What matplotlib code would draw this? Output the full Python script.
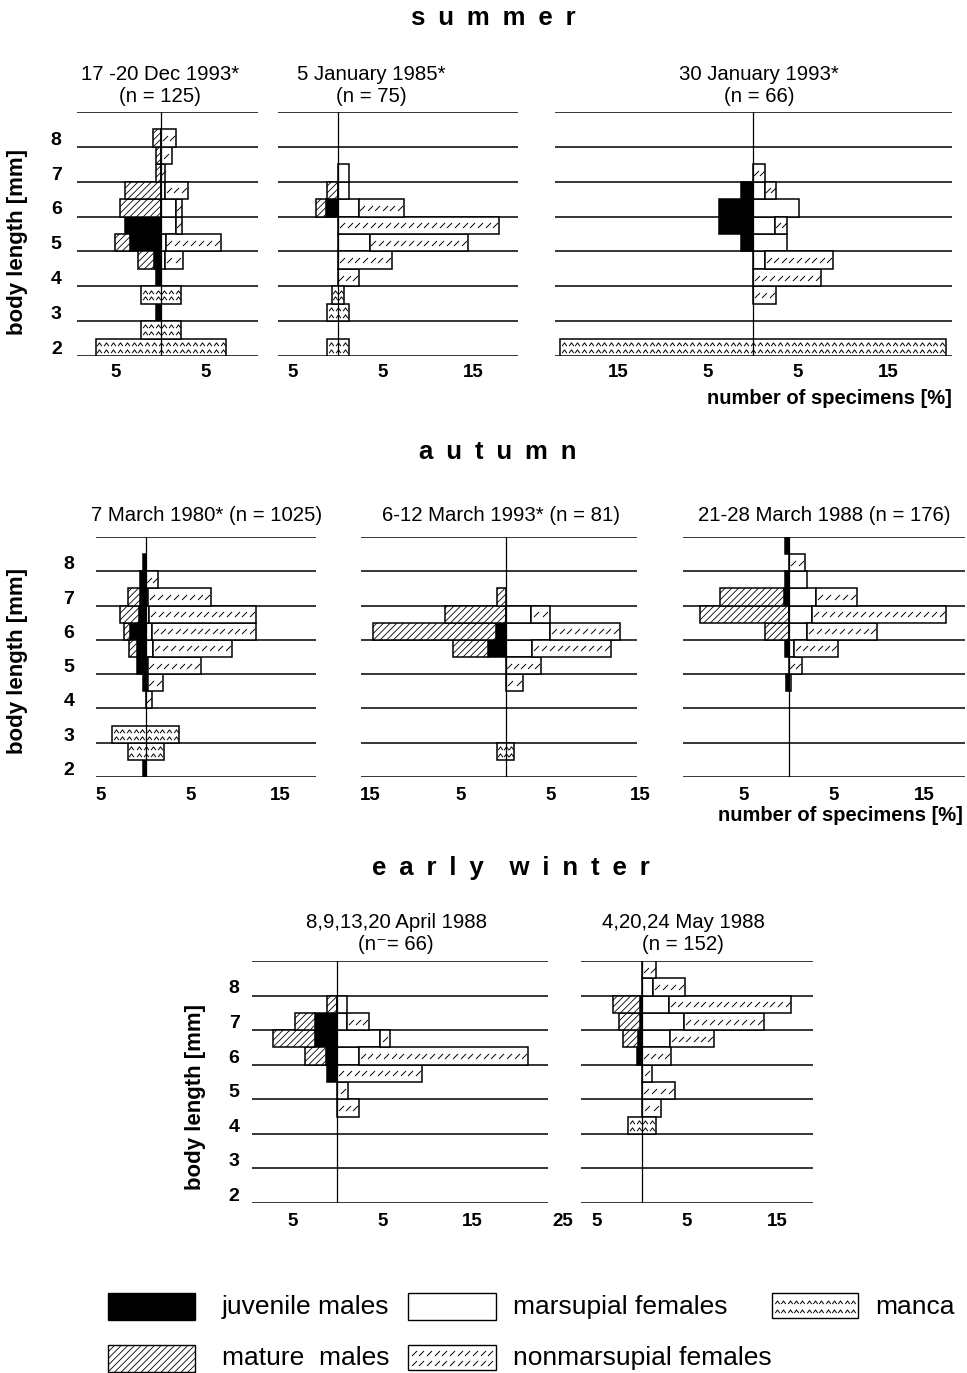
import numpy as np
import matplotlib.pyplot as plt
from matplotlib.path import Path
from matplotlib.patches import Rectangle

plt.rcParams['font.family'] = ['Liberation Sans', 'DejaVu Sans']
plt.rcParams['hatch.linewidth'] = 0.6

# body length classes (mm), half-mm steps
LENGTHS = [2.0, 2.5, 3.0, 3.5, 4.0, 4.5, 5.0, 5.5, 6.0, 6.5, 7.0, 7.5, 8.0, 8.5]

# number of specimens [%] per class; males go left, females right, manca centred
dec93_juv = [0, 0, 0.6, 0, 0.6, 0.8, 3.4, 4.0, 0, 0, 0, 0, 0, 0]
dec93_mat = [0, 0, 0, 0, 0, 1.8, 1.7, 0, 4.6, 4.0, 0.6, 0.6, 0.9, 0]
dec93_mar = [0, 0, 0, 0, 0, 0.4, 0.5, 1.7, 1.7, 0.4, 0, 0, 0, 0]
dec93_non = [0, 0, 0, 0, 0, 2.0, 6.2, 0.6, 0.6, 2.6, 0.4, 1.2, 1.7, 0]
dec93_man = [14.5, 4.4, 0, 4.4, 0, 0, 0, 0, 0, 0, 0, 0, 0, 0]

jan85_juv = [0, 0, 0, 0, 0, 0, 0, 0, 1.3, 0, 0, 0, 0, 0]
jan85_mat = [0, 0, 0, 0, 0, 0, 0, 0, 1.2, 1.2, 0, 0, 0, 0]
jan85_mar = [0, 0, 0, 0, 0, 0, 3.5, 0, 2.3, 1.2, 1.2, 0, 0, 0]
jan85_non = [0, 0, 0, 0, 2.3, 6.0, 10.9, 17.9, 5.0, 0, 0, 0, 0, 0]
jan85_man = [2.4, 0, 2.4, 1.3, 0, 0, 0, 0, 0, 0, 0, 0, 0, 0]

jan93_juv = [0, 0, 0, 0, 0, 0, 1.3, 3.8, 3.8, 1.3, 0, 0, 0, 0]
jan93_mat = [0, 0, 0, 0, 0, 0, 0, 0, 0, 0, 0, 0, 0, 0]
jan93_mar = [0, 0, 0, 0, 0, 1.3, 3.8, 2.4, 5.1, 1.3, 0, 0, 0, 0]
jan93_non = [0, 0, 0, 2.5, 7.6, 7.6, 0, 1.4, 0, 1.3, 1.3, 0, 0, 0]
jan93_man = [42.8, 0, 0, 0, 0, 0, 0, 0, 0, 0, 0, 0, 0, 0]

mar80_juv = [0.3, 0, 0, 0, 0, 0.3, 1.0, 1.0, 1.7, 0.8, 0.6, 0.6, 0.3, 0]
mar80_mat = [0, 0, 0, 0, 0, 0, 0, 0.9, 0.7, 2.0, 1.4, 0, 0, 0]
mar80_mar = [0, 0, 0, 0, 0, 0.2, 0.2, 0.8, 0.7, 0.4, 0.3, 0, 0, 0]
mar80_non = [0, 0, 0, 0, 0.7, 1.7, 5.9, 8.8, 11.5, 11.8, 7.0, 1.4, 0, 0]
mar80_man = [0, 4.0, 7.4, 0, 0, 0, 0, 0, 0, 0, 0, 0, 0, 0]

mar93_juv = [0, 0, 0, 0, 0, 0, 0, 2.0, 1.1, 0, 0, 0, 0, 0]
mar93_mat = [0, 0, 0, 0, 0, 0, 0, 3.9, 13.7, 6.8, 1.0, 0, 0, 0]
mar93_mar = [0, 0, 0, 0, 0, 0, 0, 2.9, 4.9, 2.8, 0, 0, 0, 0]
mar93_non = [0, 0, 0, 0, 0, 1.9, 3.9, 8.8, 7.8, 2.1, 0, 0, 0, 0]
mar93_man = [0, 1.9, 0, 0, 0, 0, 0, 0, 0, 0, 0, 0, 0, 0]

mar88_juv = [0, 0, 0, 0, 0, 0.3, 0, 0.5, 0, 0, 0.6, 0.5, 0, 0.5]
mar88_mat = [0, 0, 0, 0, 0, 0, 0, 0, 2.7, 9.9, 7.1, 0, 0, 0]
mar88_mar = [0, 0, 0, 0, 0, 0.2, 0, 0.6, 2.0, 2.6, 3.0, 2.0, 0, 0]
mar88_non = [0, 0, 0, 0, 0, 0, 1.4, 4.8, 7.8, 14.8, 4.6, 0, 1.8, 0]
mar88_man = [0, 0, 0, 0, 0, 0, 0, 0, 0, 0, 0, 0, 0, 0]

apr88_juv = [0, 0, 0, 0, 0, 0, 0, 1.2, 1.3, 2.5, 2.5, 0, 0, 0]
apr88_mat = [0, 0, 0, 0, 0, 0, 0, 0, 2.3, 4.6, 2.2, 1.2, 0, 0]
apr88_mar = [0, 0, 0, 0, 0, 0, 0, 0, 2.4, 4.7, 1.1, 1.1, 0, 0]
apr88_non = [0, 0, 0, 0, 0, 2.4, 1.2, 9.4, 18.8, 1.2, 2.4, 0, 0, 0]
apr88_man = [0, 0, 0, 0, 0, 0, 0, 0, 0, 0, 0, 0, 0, 0]

may88_juv = [0, 0, 0, 0, 0, 0, 0, 0, 0.6, 0.5, 0.2, 0.2, 0, 0]
may88_mat = [0, 0, 0, 0, 0, 0, 0, 0, 0, 1.6, 2.4, 3.0, 0, 0]
may88_mar = [0, 0, 0, 0, 0, 0, 0, 0, 0, 3.1, 4.7, 3.0, 1.2, 0]
may88_non = [0, 0, 0, 0, 0, 2.1, 3.7, 1.1, 3.2, 4.9, 8.8, 13.6, 3.6, 1.6]
may88_man = [0, 0, 0, 0, 3.1, 0, 0, 0, 0, 0, 0, 0, 0, 0]

PANEL_TITLES = ['17 -20 Dec 1993*\n(n = 125)', '5 January 1985*\n(n = 75)',
                '30 January 1993*\n(n = 66)', '7 March 1980* (n = 1025)',
                '6-12 March 1993* (n = 81)', '21-28 March 1988 (n = 176)',
                '8,9,13,20 April 1988\n(n\u207b= 66)', '4,20,24 May 1988\n(n = 152)']
PANEL_TICKS = [[-5, 5], [-5, 5, 15], [-15, -5, 5, 15], [-5, 5, 15],
               [-15, -5, 5, 15], [-5, 5, 15], [-5, 5, 15, 25], [-5, 5, 15]]
SEASONS = ['summer', 'autumn', 'early winter']
Y_LABELS = [2, 3, 4, 5, 6, 7, 8]

W, H = 967, 1373
PX = 9.0  # pixels per percent
# layout: row, zero line x, line extents (px), title centre x
LAYOUT = [
    (0, 161, 77, 258, 160), (0, 338, 278, 518, 371), (0, 753, 555, 952, 759),
    (1, 145.7, 96, 316, 207), (1, 505.7, 361, 637, 501), (1, 789, 683, 965, 824),
    (2, 337.3, 252, 548, 396), (2, 642, 581, 813, 683),
]
ROWS = [(112, 356), (537, 777), (961, 1203)]
TICK_PAD = [5.5, 7.0, 7.5]
YTICK_PAD = [11, 15, 9]

SLASH = Path([(-1, -1), (1, 1)], [Path.MOVETO, Path.LINETO])
CARET = Path([(-1, -0.7), (0, 0.7), (1, -0.7)], [Path.MOVETO, Path.LINETO, Path.LINETO])

fig = plt.figure(figsize=(W / 100, H / 100), dpi=100)
fig.patch.set_facecolor('white')


def ftext(x, y, s, **kw):
    kw.setdefault('ha', 'center')
    kw.setdefault('va', 'center')
    fig.text(x / W, 1 - y / H, s, **kw)


def mark_row(ax, x0, x1, yy, step, marker, ms):
    n = max(1, int(round((x1 - x0) / step)))
    xs = x0 + (np.arange(n) + 0.5) * (x1 - x0) / n
    ax.plot(xs, np.full(n, yy), ls='none', marker=marker, ms=ms,
            mec='black', mfc='none', mew=0.7, zorder=3)


def draw_panel(ax, juv, mat, mar, non, man):
    y = np.array(LENGTHS)
    juv, mat, mar, non, man = (np.array(v, float) for v in (juv, mat, mar, non, man))
    kw = dict(height=0.5, edgecolor='black', linewidth=1.1, zorder=2)

    def bars(width, left, **extra):
        m = width > 0
        if m.any():
            ax.barh(y[m], width[m], left=left[m], **kw, **extra)

    bars(juv, -juv, color='black')
    bars(mat, -juv - mat, color='white', hatch='/////')
    bars(mar, np.zeros_like(mar), color='white')
    bars(non, mar, color='white')
    bars(man, -man / 2, color='white')
    for yy, a, b in zip(y, mar, non):
        if b > 0:
            mark_row(ax, a, a + b, yy, 0.85, SLASH, 3.6)
    for yy, m in zip(y, man):
        if m > 0:
            for dy in (-0.1, 0.1):
                mark_row(ax, -m / 2, m / 2, yy + dy, 0.75, CARET, 3.4)


panel_data = [
    (dec93_juv, dec93_mat, dec93_mar, dec93_non, dec93_man),
    (jan85_juv, jan85_mat, jan85_mar, jan85_non, jan85_man),
    (jan93_juv, jan93_mat, jan93_mar, jan93_non, jan93_man),
    (mar80_juv, mar80_mat, mar80_mar, mar80_non, mar80_man),
    (mar93_juv, mar93_mat, mar93_mar, mar93_non, mar93_man),
    (mar88_juv, mar88_mat, mar88_mar, mar88_non, mar88_man),
    (apr88_juv, apr88_mat, apr88_mar, apr88_non, apr88_man),
    (may88_juv, may88_mat, may88_mar, may88_non, may88_man),
]

first_in_row = set()
for i, ((row, zero, lo_px, hi_px, tx), data) in enumerate(zip(LAYOUT, panel_data)):
    top, bot = ROWS[row]
    ticks = PANEL_TICKS[i]
    lo, hi = (lo_px - zero) / PX, (hi_px - zero) / PX
    xmin, xmax = min(lo, ticks[0] - 0.6), max(hi, ticks[-1] + 0.6)
    ax = fig.add_axes([(zero + xmin * PX) / W, 1 - bot / H,
                       (xmax - xmin) * PX / W, (bot - top) / H])
    ax.set_facecolor('none')
    ax.set_xlim(xmin, xmax)
    ax.set_ylim(1.75, 8.75)
    for s in ax.spines.values():
        s.set_visible(False)
    ax.hlines(np.arange(1.75, 8.8, 1.0), lo, hi, color='black', lw=1.1, zorder=1)
    draw_panel(ax, *data)
    ax.plot([0, 0], [1.75, 8.75], color='black', lw=0.9, zorder=4)

    ax.set_xticks(ticks)
    ax.set_xticklabels([str(abs(t)) for t in ticks], fontsize=13.5, fontweight='bold')
    ax.tick_params(axis='x', length=0, pad=TICK_PAD[row])
    if row not in first_in_row:
        first_in_row.add(row)
        ax.set_yticks(Y_LABELS)
        ax.set_yticklabels([str(v) for v in Y_LABELS], fontsize=14, fontweight='bold')
        ax.tick_params(axis='y', length=0, pad=YTICK_PAD[row])
    else:
        ax.set_yticks([])

    title = PANEL_TITLES[i]
    if '\n' in title:
        l1, l2 = title.split('\n')
        ftext(tx, top - 38, l1, fontsize=14.7)
        ftext(tx, top - 16, l2, fontsize=14.7)
    else:
        ftext(tx, top - 22, title, fontsize=14.7)

# season headings
for s, (x, y) in zip(SEASONS, [(493, 18), (498, 452), (511, 868)]):
    spaced = '\u2002\u2002'.join('\u2002'.join(w) for w in s.split())
    ftext(x, y, spaced, fontsize=18.5, fontweight='bold')

# axis labels
for x, y in [(18, 242), (18, 661), (196, 1097)]:
    ftext(x, y, 'body length [mm]', fontsize=16, fontweight='bold', rotation=90)
for x, y in [(952, 398), (963, 816)]:
    ftext(x, y, 'number of specimens [%]', fontsize=14.5, fontweight='bold', ha='right')

# legend
lax = fig.add_axes([0, 0, 1, 1], zorder=-1)
lax.set_xlim(0, W)
lax.set_ylim(H, 0)
lax.axis('off')
legend_font = dict(fontsize=19, family=['Liberation Sans', 'DejaVu Sans'], va='center')
lax.add_patch(Rectangle((108, 1293), 87, 27, fc='black', ec='black', lw=1))
lax.add_patch(Rectangle((408, 1293), 88, 27, fc='white', ec='black', lw=1))
lax.add_patch(Rectangle((772, 1293), 86, 25, fc='white', ec='black', lw=1))
lax.add_patch(Rectangle((108, 1345), 87, 27, fc='white', ec='black', lw=1, hatch='/////'))
lax.add_patch(Rectangle((408, 1345), 88, 25, fc='white', ec='black', lw=1))
for yy in (1353, 1363):
    mark_row(lax, 410, 494, yy, 7.5, SLASH, 3.6)
for yy in (1302, 1311):
    mark_row(lax, 774, 856, yy, 6.5, CARET, 3.2)
lax.text(222, 1307, 'juvenile males', **legend_font)
lax.text(513, 1307, 'marsupial females', **legend_font)
lax.text(875, 1307, 'manca', **legend_font)
lax.text(222, 1358, 'mature  males', **legend_font)
lax.text(513, 1358, 'nonmarsupial females', **legend_font)

fig.savefig('out.png', dpi=100)
